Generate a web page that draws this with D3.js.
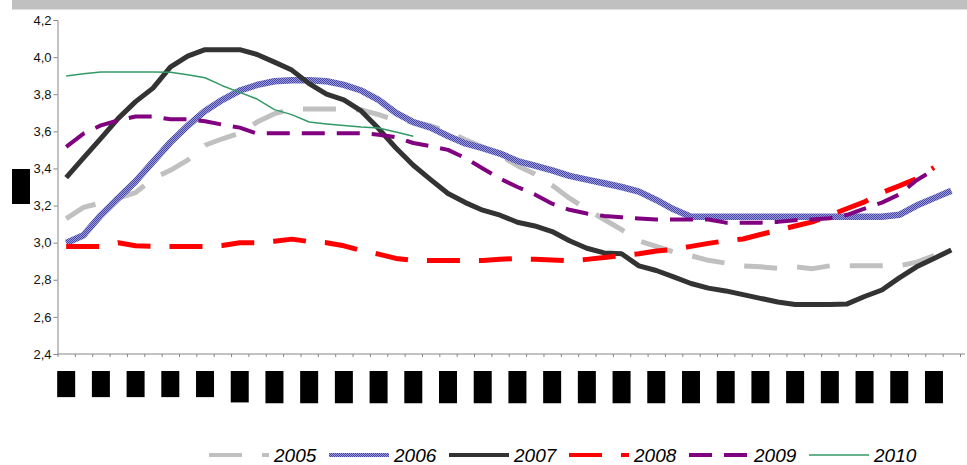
<!DOCTYPE html>
<html>
<head>
<meta charset="utf-8">
<script src="https://cdn.jsdelivr.net/npm/d3@7/dist/d3.min.js"></script>
<style>
  html, body { margin: 0; padding: 0; background: #fff; }
  svg { display: block; font-family: "Liberation Sans", Arial, sans-serif; }
</style>
</head>
<body>
<svg id="chart" width="967" height="465"></svg>
<script>
// ---- data ----
const weeks = d3.range(1, 53).map(String);          // 52 weekly categories
const yTicks = [2.4, 2.6, 2.8, 3.0, 3.2, 3.4, 3.6, 3.8, 4.0, 4.2];
const seriesNames = ["2005", "2006", "2007", "2008", "2009", "2010"];

const v2005 = [3.13,3.19,3.215,3.24,3.27,3.345,3.39,3.445,3.525,3.56,3.59,3.65,3.695,3.72,3.72,3.72,3.72,3.715,3.69,3.66,3.65,3.63,3.60,3.555,3.515,3.47,3.415,3.37,3.31,3.24,3.18,3.125,3.07,3.01,2.98,2.95,2.93,2.905,2.89,2.875,2.87,2.862,2.87,2.86,2.875,2.875,2.875,2.875,2.875,2.895,2.93,2.965];
const v2006 = [2.998,3.04,3.148,3.24,3.33,3.435,3.54,3.63,3.71,3.77,3.82,3.85,3.87,3.875,3.875,3.87,3.85,3.82,3.77,3.70,3.65,3.62,3.575,3.535,3.51,3.48,3.44,3.415,3.39,3.36,3.34,3.32,3.30,3.275,3.23,3.18,3.14,3.14,3.14,3.14,3.14,3.14,3.14,3.14,3.14,3.14,3.14,3.14,3.15,3.20,3.24,3.28];
const v2007 = [3.35,3.457,3.562,3.67,3.76,3.833,3.946,4.005,4.04,4.04,4.04,4.014,3.973,3.93,3.857,3.80,3.77,3.71,3.615,3.51,3.417,3.34,3.265,3.216,3.175,3.148,3.11,3.09,3.06,3.01,2.97,2.945,2.94,2.875,2.85,2.816,2.78,2.755,2.74,2.72,2.70,2.68,2.667,2.667,2.667,2.67,2.71,2.745,2.81,2.87,2.915,2.96];
const v2008 = [2.98,2.98,2.98,3.0,2.983,2.98,2.98,2.98,2.98,2.985,3.0,3.0,3.008,3.019,3.006,3.0,2.983,2.958,2.938,2.915,2.904,2.904,2.904,2.904,2.904,2.91,2.915,2.91,2.906,2.902,2.91,2.92,2.93,2.94,2.955,2.963,2.98,2.996,3.01,3.02,3.044,3.067,3.09,3.112,3.148,3.184,3.22,3.27,3.306,3.345,3.405,null];
const v2009 = [3.516,3.588,3.632,3.659,3.68,3.68,3.665,3.665,3.654,3.636,3.62,3.588,3.59,3.59,3.59,3.59,3.59,3.59,3.582,3.568,3.537,3.52,3.50,3.456,3.40,3.345,3.30,3.26,3.21,3.177,3.157,3.144,3.137,3.13,3.125,3.125,3.125,3.125,3.108,3.108,3.108,3.112,3.121,3.125,3.132,3.15,3.184,3.216,3.26,3.336,3.394,null];
const v2010 = [3.898,3.91,3.92,3.92,3.92,3.92,3.918,3.905,3.889,3.846,3.81,3.774,3.717,3.69,3.65,3.64,3.632,3.623,3.618,3.596,3.573];

const seriesValues = [v2005, v2006, v2007, v2008, v2009, v2010];

// ---- styles ----
const styles = {
  "2005": { stroke: "#c0c0c0", width: 5, dash: "33,20" },
  "2006": { stroke: "url(#hatch)", width: 6.5, dash: null },
  "2007": { stroke: "#333333", width: 5, dash: null },
  "2008": { stroke: "#ff0000", width: 5, dash: "33,19" },
  "2009": { stroke: "#800080", width: 4, dash: "23,12" },
  "2010": { stroke: "#339966", width: 1.5, dash: null }
};

const svg = d3.select("#chart");
const W = 967, H = 465;
const plot = { left: 57.5, right: 960, top: 20, bottom: 354 };

// pattern for the hatched 2006 line
const defs = svg.append("defs");
const pat = defs.append("pattern").attr("id", "hatch")
  .attr("patternUnits", "userSpaceOnUse").attr("width", 2).attr("height", 2);
pat.append("rect").attr("width", 2).attr("height", 2).attr("fill", "#9c9cde");
pat.append("rect").attr("width", 1).attr("height", 1).attr("fill", "#4646a4");
pat.append("rect").attr("x", 1).attr("y", 1).attr("width", 1).attr("height", 1).attr("fill", "#4646a4");

svg.append("rect").attr("width", W).attr("height", H).attr("fill", "#fff");
// top grey band
svg.append("rect").attr("x", 12).attr("y", 0).attr("width", W - 12).attr("height", 9.5).attr("fill", "#c0c0c0");

// scales
const x = d3.scaleBand().domain(weeks).range([plot.left, plot.right]).paddingInner(0).paddingOuter(0);
const xEdge = d3.scaleLinear().domain([0, weeks.length]).range([plot.left, plot.right]);
const y = d3.scaleLinear().domain([2.4, 4.2]).range([plot.bottom, plot.top]);
const cx = (i) => x(weeks[i]) + x.bandwidth() / 2;

// y axis
const yAxis = svg.append("g").attr("transform", `translate(${plot.left},0)`)
  .call(d3.axisLeft(y).tickValues(yTicks).tickSize(4).tickPadding(2)
    .tickFormat(d => d.toFixed(1).replace(".", ",")));
yAxis.select(".domain").attr("stroke", "#868686");
yAxis.selectAll(".tick line").attr("stroke", "#868686");
yAxis.selectAll(".tick text").attr("fill", "#111").attr("font-size", 13)
  .attr("font-family", "Liberation Sans, Arial, sans-serif");

// x axis (tick marks between categories)
const xAxis = svg.append("g").attr("transform", `translate(0,${plot.bottom})`)
  .call(d3.axisBottom(xEdge).tickValues(d3.range(0, weeks.length + 1)).tickSize(3).tickFormat(""));
xAxis.select(".domain").attr("stroke", "#868686").attr("d", `M${plot.left},0H${W - 2}`);
xAxis.selectAll(".tick line").attr("stroke", "#868686");

// x category labels (redacted: black boxes with rotated text)
const labelG = svg.append("g");
weeks.forEach((w, i) => {
  if (i % 2 !== 0) return;
  const g = labelG.append("g");
  const rect = g.append("rect").attr("fill", "#000");
  const t = g.append("text").text(w).attr("font-size", 11).attr("fill", "#000")
    .attr("text-anchor", "middle");
  const len = t.node().getComputedTextLength();
  const h = len + 20;
  const top = 371;
  rect.attr("x", cx(i) - 9).attr("y", top).attr("width", 18).attr("height", h);
  t.attr("transform", `translate(${cx(i) + 4},${top + h / 2}) rotate(-90)`);
});

// y axis title (redacted box)
const yt = svg.append("g");
yt.append("rect").attr("x", 12).attr("y", 169).attr("width", 18).attr("height", 35).attr("fill", "#000");
yt.append("text").text("%").attr("fill", "#000").attr("font-size", 12)
  .attr("text-anchor", "middle").attr("transform", "translate(25,186.5) rotate(-90)");

// lines
const line = d3.line()
  .defined(d => d.v != null)
  .x(d => cx(d.i))
  .y(d => y(d.v))
  .curve(d3.curveLinear);

seriesNames.forEach((name, k) => {
  const st = styles[name];
  const data = seriesValues[k].map((v, i) => ({ i, v }));
  svg.append("path").datum(data)
    .attr("d", line)
    .attr("fill", "none")
    .attr("stroke", st.stroke)
    .attr("stroke-width", st.width)
    .attr("stroke-linejoin", "round")
    .attr("stroke-dasharray", st.dash);
});

// legend
const legend = svg.append("g");
seriesNames.forEach((name, k) => {
  const st = styles[name];
  const x0 = 209 + k * 120;
  legend.append("line").attr("x1", x0).attr("x2", x0 + 60).attr("y1", 455).attr("y2", 455)
    .attr("stroke", st.stroke).attr("stroke-width", Math.min(st.width, 4))
    .attr("stroke-dasharray", st.dash);
  legend.append("text").text(name).attr("x", x0 + 65).attr("y", 461.5)
    .attr("font-size", 19).attr("font-style", "italic").attr("fill", "#000");
});
</script>
</body>
</html>
